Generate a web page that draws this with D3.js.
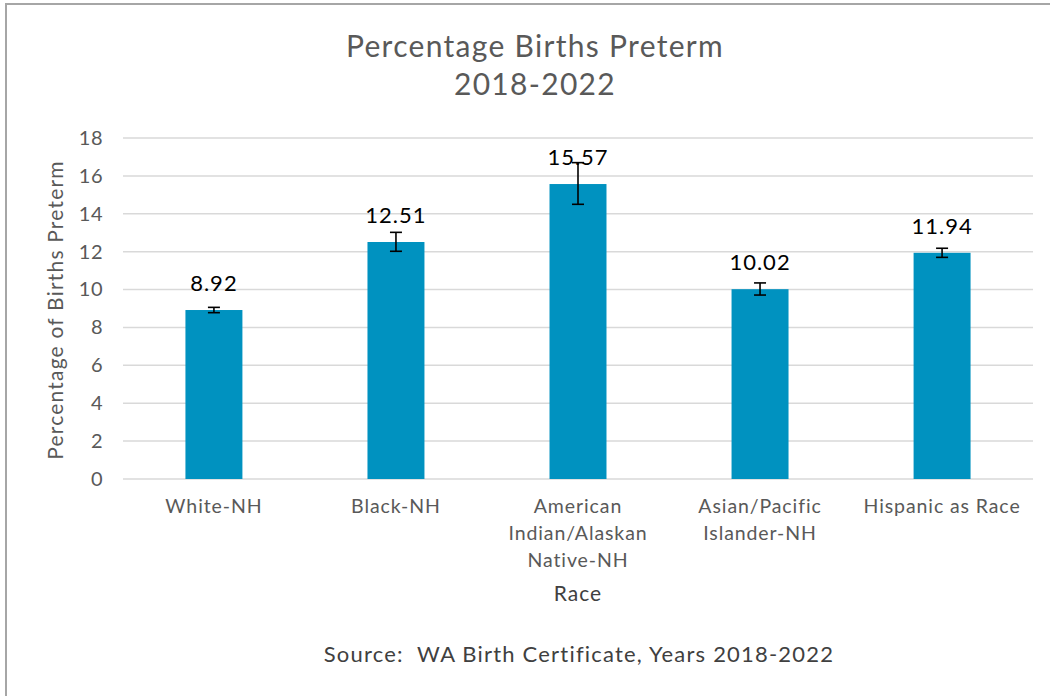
<!DOCTYPE html>
<html><head><meta charset="utf-8">
<script src="https://cdn.jsdelivr.net/npm/d3@7"></script>
<style>
html,body{margin:0;padding:0;background:#fff;}
svg{display:block;font-family:Lato, "Open Sans", sans-serif;}
</style></head>
<body>
<svg id="chart" width="1050" height="696"></svg>
<script>
const categories = [["White-NH"],["Black-NH"],["American","Indian/Alaskan","Native-NH"],["Asian/Pacific","Islander-NH"],["Hispanic as Race"]];
const values = [8.92, 12.51, 15.57, 10.02, 11.94];
const lower = [8.78, 12.02, 14.5, 9.71, 11.70];
const upper = [9.06, 13.02, 16.7, 10.35, 12.18];
const yTicks = [0,2,4,6,8,10,12,14,16,18];

const svg = d3.select("#chart");
svg.append("rect").attr("x",6).attr("y",4).attr("width",1100).attr("height",800)
  .attr("fill","#fff").attr("stroke","#a6a6a6").attr("stroke-width",2);

const pL=123, pR=1033, pT=138, pB=479;
const x = d3.scaleBand().domain(d3.range(values.length)).range([pL,pR]).paddingInner(0.687).paddingOuter(0.343);
const y = d3.scaleLinear().domain([0,18]).range([pB,pT]);

// gridlines
svg.append("g").selectAll("line").data(yTicks).join("line")
  .attr("x1",pL).attr("x2",pR).attr("y1",d=>y(d)).attr("y2",d=>y(d))
  .attr("stroke","#d9d9d9").attr("stroke-width",1.5);

// y axis labels
const yAxis = d3.axisLeft(y).tickValues(yTicks).tickSize(0).tickPadding(20);
const ga = svg.append("g").attr("transform",`translate(${pL},0)`).call(yAxis);
ga.select(".domain").remove();
ga.selectAll("text").attr("font-size",20).attr("fill","#595959").attr("font-family","Lato, sans-serif")
  .attr("letter-spacing",0.5);

// bars
svg.append("g").selectAll("rect").data(values).join("rect")
  .attr("x",(d,i)=>x(i)).attr("width",x.bandwidth())
  .attr("y",d=>y(d)).attr("height",d=>y(0)-y(d)).attr("fill","#0092c0");

// error bars
const eb = svg.append("g").attr("stroke","#000").attr("stroke-width",1.6);
values.forEach((v,i)=>{
  const cx = x(i)+x.bandwidth()/2;
  eb.append("line").attr("x1",cx).attr("x2",cx).attr("y1",y(lower[i])).attr("y2",y(upper[i]));
  eb.append("line").attr("x1",cx-6).attr("x2",cx+6).attr("y1",y(lower[i])).attr("y2",y(lower[i]));
  eb.append("line").attr("x1",cx-6).attr("x2",cx+6).attr("y1",y(upper[i])).attr("y2",y(upper[i]));
});

// data labels
svg.append("g").selectAll("text").data(values).join("text")
  .attr("x",(d,i)=>x(i)+x.bandwidth()/2).attr("y",d=>y(d)-19)
  .attr("text-anchor","middle").attr("font-size",22).attr("letter-spacing",1).attr("fill","#000")
  .text(d=>d.toFixed(2));

// category labels
const cl = svg.append("g");
categories.forEach((lines,i)=>{
  const t = cl.append("text").attr("text-anchor","middle").attr("font-size",19.5)
    .attr("letter-spacing",0.9).attr("fill","#595959");
  lines.forEach((ln,j)=>{
    t.append("tspan").attr("x",x(i)+x.bandwidth()/2).attr("y",513+j*26.8).text(ln);
  });
});

// axis titles
svg.append("text").attr("x",578).attr("y",601).attr("text-anchor","middle")
  .attr("font-size",21).attr("letter-spacing",1).attr("fill","#404040").text("Race");
svg.append("text").attr("transform","translate(63,310) rotate(-90)").attr("text-anchor","middle")
  .attr("font-size",21).attr("letter-spacing",1.2).attr("fill","#595959").text("Percentage of Births Preterm");

// title
const title = svg.append("text").attr("text-anchor","middle").attr("font-size",30)
  .attr("letter-spacing",1.3).attr("fill","#595959");
title.append("tspan").attr("x",535).attr("y",57).text("Percentage Births Preterm");
title.append("tspan").attr("x",535).attr("y",95).text("2018-2022");

// source
svg.append("text").attr("x",579).attr("y",662).attr("text-anchor","middle")
  .attr("font-size",22).attr("letter-spacing",1.2).attr("fill","#404040").style("white-space","pre")
  .text("Source:  WA Birth Certificate, Years 2018-2022");
</script>
</body></html>
